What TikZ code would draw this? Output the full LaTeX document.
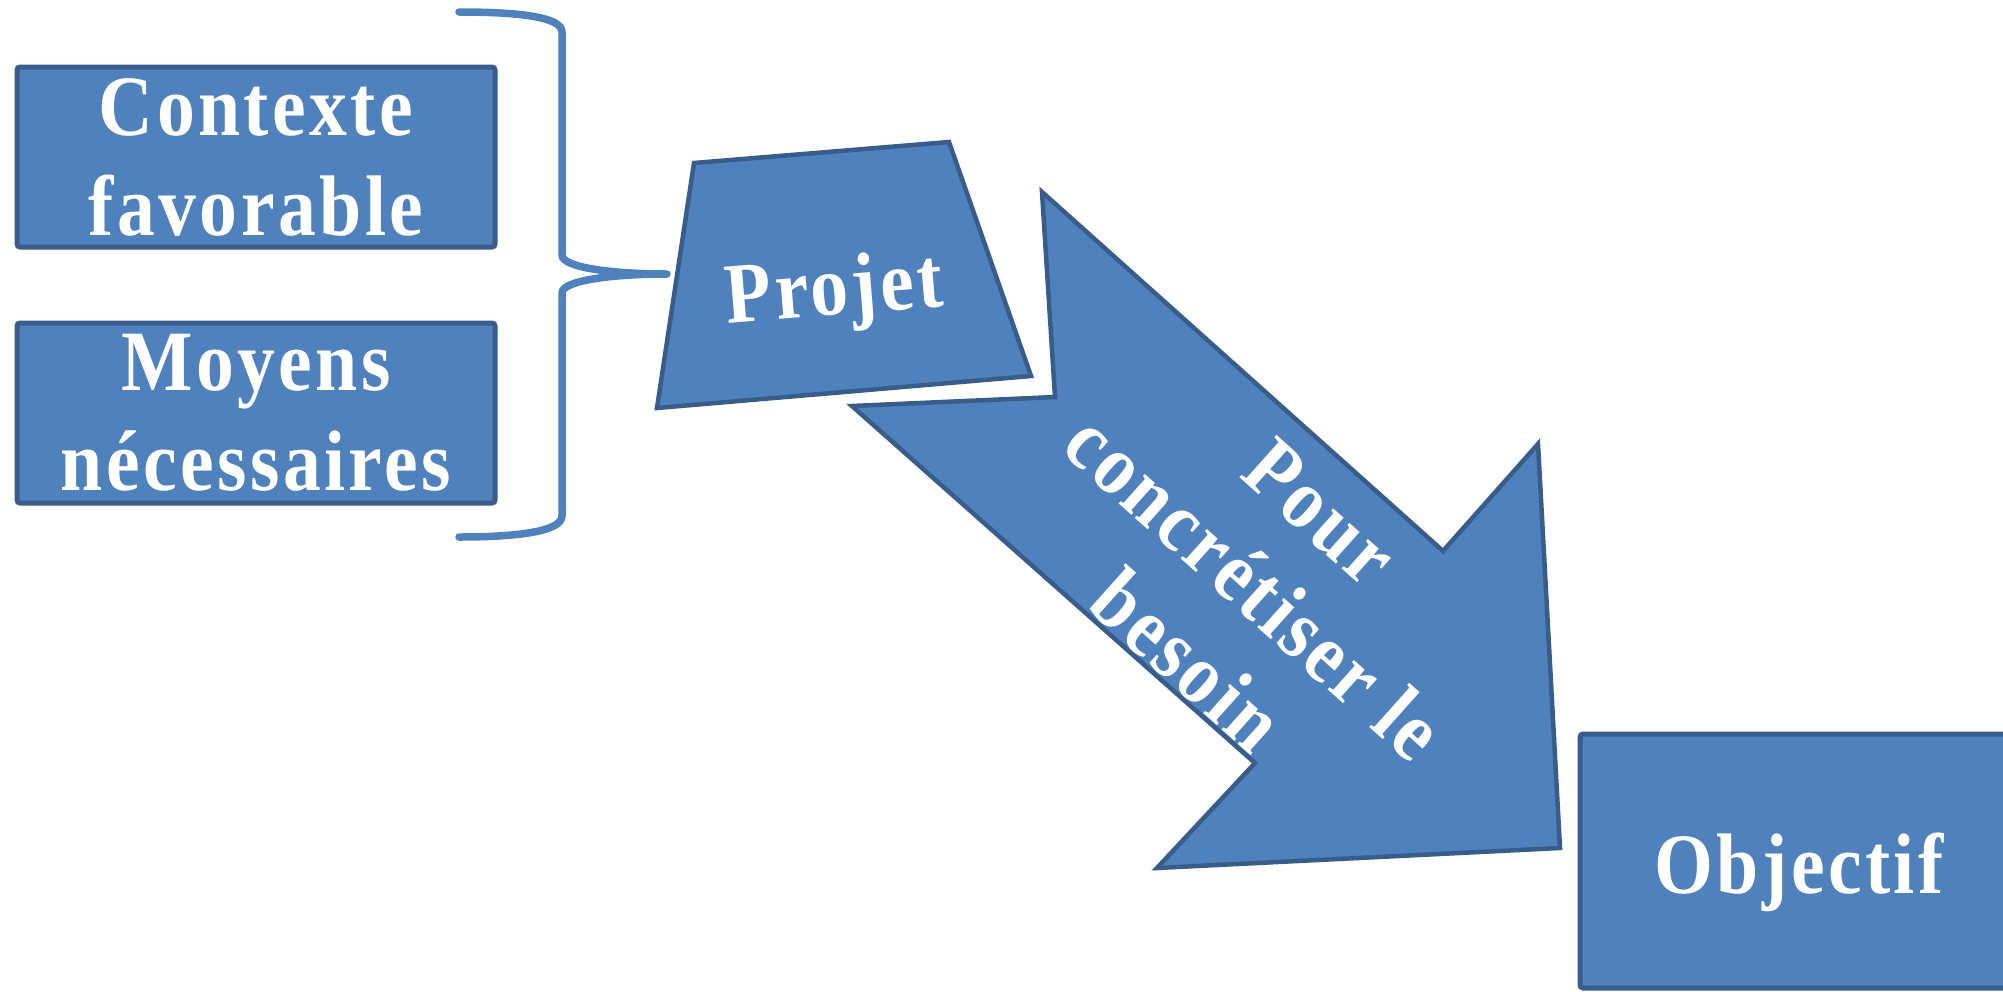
\documentclass[tikz,border=0pt]{standalone}
\usepackage{fontspec}
\setmainfont{Liberation Serif}[FakeStretch=0.88, LetterSpace=4]
\definecolor{boxblue}{HTML}{4F81BD}
\definecolor{edgeblue}{HTML}{385D8A}
\begin{document}
\begin{tikzpicture}[x=1pt,y=-1pt,
  bigtext/.style={text=white, font=\bfseries\fontsize{86}{100}\selectfont, inner sep=0pt},
  boxnode/.style={bigtext, draw=edgeblue, fill=boxblue, line width=5pt,
    rounded corners=3pt, align=center},
  blockshape/.style={draw=edgeblue, fill=boxblue, line width=4.5pt, line join=miter},
  bracket/.style={draw=boxblue, line width=7.5pt, line cap=round, line join=round}]
\useasboundingbox (0,0) rectangle (2003,991);
\begin{scope}
\clip (0,0) rectangle (2003,991);

% two input boxes on the left
\node[boxnode, minimum width=478pt, minimum height=180pt] (ctx) at (256,157) {Contexte\\favorable};
\node[boxnode, minimum width=478pt, minimum height=180pt] (moy) at (256,413) {Moyens\\nécessaires};

% closing brace gathering both boxes
\coordinate (bracetop) at (459,12);
\coordinate (bracetip) at (667,274);
\coordinate (bracebot) at (459,537);
\draw[bracket] (bracetop) .. controls (525,12) and (562,18) .. (562,32)
  -- (562,255) .. controls (562,268) and (615,274) .. (bracetip)
  .. controls (615,274) and (562,280) .. (562,293)
  -- (562,516) .. controls (562,530) and (525,537) .. (bracebot);

% project block
\draw[blockshape] (694,163) -- (949,142) -- (1031,376) -- (657,408) -- cycle;
\node[bigtext, anchor=base, rotate=4.7] (projet) at (836,315) {Projet};

% notched arrow towards the objective
\draw[blockshape] (1042,192) -- (1443,551) -- (1538,444) -- (1560,848)
  -- (1157,868) -- (1255,763) -- (852,406) -- (1055,397) -- cycle;
\node[bigtext, align=center, rotate=-41.8] (pour) at (1254,587)
  {Pour\\concrétiser le\\besoin};

% objective box
\node[boxnode, minimum width=434pt, minimum height=254pt] (obj) at (1797,861) {};
\node[bigtext, anchor=base] (objtext) at (1799,893) {Objectif};
\end{scope}
\end{tikzpicture}
\end{document}
